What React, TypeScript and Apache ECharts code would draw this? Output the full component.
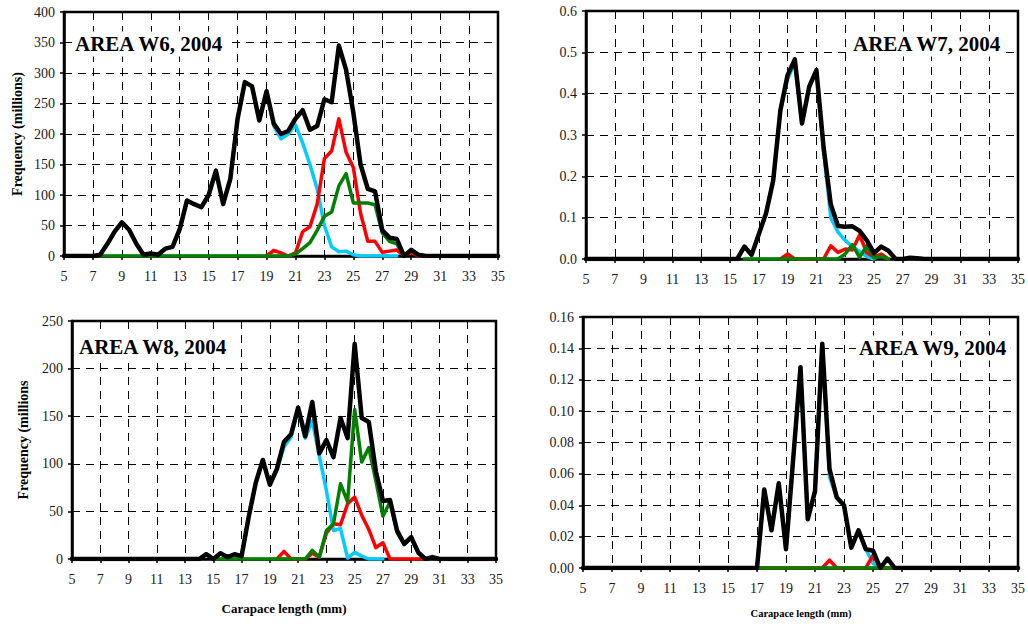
import React, { useEffect, useRef } from "react";
import * as echarts from "echarts";

// Carapace-length classes are sampled every half millimetre.
const STEP = 0.5;
const LENGTH_MIN = 5;
const LENGTH_MAX = 35;
const LENGTH_INTERVAL = 2;

const SERIF = "Liberation Serif, serif";
const COLOR_TOTAL = "#000000";
const COLOR_BLUE = "#00CCFF";
const COLOR_RED = "#FF0000";
const COLOR_GREEN = "#008000";

// ---- AREA W6 (millions) ----
const W6_TOTAL_START = 5;
const W6_TOTAL = [
  0, 0, 0, 0, 0, 2, 20, 40, 55, 43, 20, 2, 4, 2, 12, 15, 44, 91, 85, 80, 100,
  140, 85, 127, 225, 285, 278, 222, 270, 217, 200, 205, 225, 239, 207, 213, 257,
  252, 345, 305, 235, 150, 110, 106, 42, 30, 28, 0, 10, 2, 0, 0, 0, 0, 0, 0, 0,
  0, 0, 0, 0,
];
const W6_BLUE_START = 7.5;
const W6_BLUE = [
  2, 20, 40, 55, 43, 20, 2, 4, 2, 12, 15, 44, 91, 85, 80, 100, 140, 85, 127,
  225, 285, 278, 222, 270, 213, 192, 200, 215, 185, 150, 110, 50, 15, 7, 8, 2,
  0, 0, 0, 0, 0, 0,
];
const W6_RED_START = 19;
const W6_RED = [
  0, 9, 5, 0, 5, 40, 48, 85, 160, 172, 225, 170, 145, 70, 24, 24, 6, 8, 10, 0,
  6, 0, 0,
];
const W6_GREEN_START = 7.5;
const W6_GREEN = [
  0, 0, 0, 0, 0, 0, 0, 0, 0, 0, 0, 0, 0, 0, 0, 0, 0, 0, 0, 0, 0, 0, 0, 0, 0, 0,
  0, 3, 12, 22, 42, 65, 72, 115, 135, 87, 87, 87, 84, 38, 24, 20, 0,
];

// ---- AREA W7 ----
const W7_TOTAL_START = 5;
const W7_TOTAL = [
  0, 0, 0, 0, 0, 0, 0, 0, 0, 0, 0, 0, 0, 0, 0, 0, 0, 0, 0, 0, 0, 0, 0.03, 0.01,
  0.06, 0.11, 0.19, 0.36, 0.445, 0.483, 0.328, 0.417, 0.457, 0.27, 0.132, 0.08,
  0.078, 0.079, 0.068, 0.045, 0.014, 0.03, 0.02, 0, 0, 0.003, 0.002, 0, 0, 0,
  0, 0, 0, 0, 0, 0, 0, 0, 0, 0, 0,
];
const W7_BLUE_START = 15.5;
const W7_BLUE = [
  0, 0.03, 0.01, 0.06, 0.11, 0.19, 0.36, 0.435, 0.475, 0.328, 0.415, 0.455,
  0.26, 0.1, 0.065, 0.045, 0.03, 0.018, 0.006, 0,
];
const W7_RED_START = 18.5;
const W7_RED = [
  0, 0.012, 0, 0, 0, 0, 0, 0.032, 0.016, 0.024, 0.022, 0.058, 0.015, 0.005,
  0.012, 0,
];
const W7_GREEN_START = 16;
const W7_GREEN = [
  0, 0, 0, 0, 0, 0, 0, 0, 0, 0, 0, 0, 0, 0, 0.012, 0.035, 0.004, 0.032, 0.003,
  0.006, 0,
];

// ---- AREA W8 (millions) ----
const W8_TOTAL_START = 5;
const W8_TOTAL = [
  0, 0, 0, 0, 0, 0, 0, 0, 0, 0, 0, 0, 0, 0, 0, 0, 0, 0, 0, 5, 0, 6, 2, 5, 3, 44,
  80, 104, 78, 95, 123, 131, 159, 129, 165, 111, 125, 107, 148, 127, 226, 148,
  144, 92, 61, 62, 30, 16, 23, 7, 0, 2, 0, 0, 0, 0, 0, 0, 0, 0, 0,
];
const W8_BLUE_START = 14.5;
const W8_BLUE = [
  5, 0, 6, 2, 5, 3, 44, 80, 104, 78, 93, 118, 128, 157, 127, 145, 108, 72, 30,
  32, 1, 7, 3, 0, 0, 0,
];
const W8_RED_START = 19.5;
const W8_RED = [
  0, 8, 0, 0, 0, 6, 2, 27, 37, 36, 58, 65, 46, 31, 12, 17, 0, 0, 0, 0, 0, 0,
];
const W8_GREEN_START = 15;
const W8_GREEN = [
  0, 0, 0, 0, 0, 0, 0, 0, 0, 0, 0, 0, 0, 0, 9, 2, 30, 37, 79, 60, 157, 102, 117,
  82, 45, 60, 28, 15, 22, 6, 0,
];

// ---- AREA W9 ----
const W9_TOTAL_START = 5;
const W9_TOTAL = [
  0, 0, 0, 0, 0, 0, 0, 0, 0, 0, 0, 0, 0, 0, 0, 0, 0, 0, 0, 0, 0, 0, 0, 0, 0,
  0.05, 0.024, 0.054, 0.012, 0.07, 0.128, 0.031, 0.049, 0.143, 0.063, 0.045,
  0.04, 0.013, 0.024, 0.012, 0.011, 0, 0.006, 0, 0, 0, 0, 0, 0, 0, 0, 0, 0, 0,
  0, 0, 0, 0, 0, 0, 0,
];
const W9_BLUE_START = 17;
const W9_BLUE = [
  0, 0.05, 0.024, 0.054, 0.012, 0.07, 0.128, 0.031, 0.049, 0.143, 0.058, 0.045,
  0.04, 0.013, 0.024, 0.012, 0.003, 0,
];
const W9_RED_START = 17;
const W9_RED = [
  0, 0, 0, 0, 0, 0, 0, 0, 0, 0, 0.005, 0, 0, 0, 0, 0, 0.008, 0, 0, 0,
];
const W9_GREEN_START = 17;
const W9_GREEN = [
  0, 0, 0, 0, 0, 0, 0, 0, 0, 0, 0, 0, 0, 0, 0, 0, 0, 0, 0, 0,
];

const Y_NAME = "Frequency (millions)";
const Y_NAME_W8 = "Frequency (millions";
const X_NAME = "Carapace length (mm)";

type Panel = {
  title: string;
  grid: { left: number; top: number; width: number; height: number };
  titleAt: [number, number];
  yMax: number;
  yInterval: number;
  decimals: number;
  lines: { start: number; values: number[]; color: string; width: number }[];
};

const THICK = 4.5;
const THIN = 3.5;

const PANELS: Panel[] = [
  {
    title: "AREA W6, 2004",
    grid: { left: 64, top: 12, width: 434, height: 244 },
    titleAt: [72, 44],
    yMax: 400,
    yInterval: 50,
    decimals: 0,
    lines: [
      { start: W6_BLUE_START, values: W6_BLUE, color: COLOR_BLUE, width: THIN },
      { start: W6_RED_START, values: W6_RED, color: COLOR_RED, width: THIN },
      { start: W6_GREEN_START, values: W6_GREEN, color: COLOR_GREEN, width: THIN },
      { start: W6_TOTAL_START, values: W6_TOTAL, color: COLOR_TOTAL, width: THICK },
    ],
  },
  {
    title: "AREA W7, 2004",
    grid: { left: 586, top: 11, width: 433, height: 248 },
    titleAt: [850, 44],
    yMax: 0.6,
    yInterval: 0.1,
    decimals: 1,
    lines: [
      { start: W7_BLUE_START, values: W7_BLUE, color: COLOR_BLUE, width: THIN },
      { start: W7_RED_START, values: W7_RED, color: COLOR_RED, width: THIN },
      { start: W7_GREEN_START, values: W7_GREEN, color: COLOR_GREEN, width: THIN },
      { start: W7_TOTAL_START, values: W7_TOTAL, color: COLOR_TOTAL, width: THICK },
    ],
  },
  {
    title: "AREA W8, 2004",
    grid: { left: 72, top: 321, width: 424, height: 238 },
    titleAt: [76, 347],
    yMax: 250,
    yInterval: 50,
    decimals: 0,
    lines: [
      { start: W8_BLUE_START, values: W8_BLUE, color: COLOR_BLUE, width: THIN },
      { start: W8_RED_START, values: W8_RED, color: COLOR_RED, width: THIN },
      { start: W8_GREEN_START, values: W8_GREEN, color: COLOR_GREEN, width: THIN },
      { start: W8_TOTAL_START, values: W8_TOTAL, color: COLOR_TOTAL, width: THICK },
    ],
  },
  {
    title: "AREA W9, 2004",
    grid: { left: 583, top: 317, width: 436, height: 251 },
    titleAt: [856, 348],
    yMax: 0.16,
    yInterval: 0.02,
    decimals: 2,
    lines: [
      { start: W9_BLUE_START, values: W9_BLUE, color: COLOR_BLUE, width: THIN },
      { start: W9_RED_START, values: W9_RED, color: COLOR_RED, width: THIN },
      { start: W9_GREEN_START, values: W9_GREEN, color: COLOR_GREEN, width: THIN },
      { start: W9_TOTAL_START, values: W9_TOTAL, color: COLOR_TOTAL, width: THICK },
    ],
  },
];

function toPairs(start: number, values: number[]) {
  return values.map((v, i) => [start + i * STEP, v]);
}

const dashed = { type: [8, 6] as number[], color: "#000", width: 1 };
const tickText = { fontFamily: SERIF, fontSize: 14, color: "#1a1a1a" };

function buildOption() {
  const grid = PANELS.map((p) => ({
    ...p.grid,
    show: true,
    borderColor: "#000",
    borderWidth: 2.5,
    containLabel: false,
  }));

  const xAxis = PANELS.map((_, i) => ({
    type: "value",
    gridIndex: i,
    min: LENGTH_MIN,
    max: LENGTH_MAX,
    interval: LENGTH_INTERVAL,
    axisLine: { show: true, onZero: false, lineStyle: { color: "#000", width: 2.5 } },
    axisTick: { show: true, length: 4, lineStyle: { color: "#000", width: 1.5 } },
    axisLabel: { ...tickText, margin: 13 },
    splitLine: { show: true, lineStyle: dashed },
  }));

  const yAxis = PANELS.map((p, i) => ({
    type: "value",
    gridIndex: i,
    min: 0,
    max: p.yMax,
    interval: p.yInterval,
    axisLine: { show: true, lineStyle: { color: "#000", width: 2.5 } },
    axisTick: { show: true, length: 4, lineStyle: { color: "#000", width: 1.5 } },
    axisLabel: {
      ...tickText,
      margin: 9,
      formatter: (v: number) => v.toFixed(p.decimals),
    },
    splitLine: { show: true, lineStyle: dashed },
  }));

  const series: any[] = [];
  PANELS.forEach((p, i) => {
    p.lines.forEach((l) => {
      series.push({
        type: "line",
        xAxisIndex: i,
        yAxisIndex: i,
        data: toPairs(l.start, l.values),
        showSymbol: false,
        symbol: "none",
        lineStyle: { color: l.color, width: l.width, join: "round", cap: "round" },
        emphasis: { disabled: true },
        silent: true,
      });
    });
  });

  // Panel titles sit on a white box that interrupts the grid lines.
  const titles = PANELS.map((p) => ({
    type: "text",
    x: p.titleAt[0],
    y: p.titleAt[1],
    style: {
      text: p.title,
      fontFamily: SERIF,
      fontWeight: "bold",
      fontSize: 21,
      fill: "#000",
      align: "left",
      verticalAlign: "middle",
      backgroundColor: "#ffffff",
      padding: [2, 3, 2, 3],
    },
    z: 10,
  }));

  const nameStyle = (text: string, size: number) => ({
    text,
    fontFamily: SERIF,
    fontWeight: "bold",
    fontSize: size,
    fill: "#000",
    align: "center",
    verticalAlign: "middle",
  });

  const axisNames = [
    { type: "text", x: 17.5, y: 134, rotation: Math.PI / 2, style: nameStyle(Y_NAME, 14) },
    { type: "text", x: 23.5, y: 440, rotation: Math.PI / 2, style: nameStyle(Y_NAME_W8, 14) },
    { type: "text", x: 284, y: 608, style: nameStyle(X_NAME, 13) },
    { type: "text", x: 801, y: 613, style: nameStyle(X_NAME, 10.5) },
  ];

  return {
    animation: false,
    backgroundColor: "#ffffff",
    textStyle: { fontFamily: SERIF },
    grid,
    xAxis,
    yAxis,
    series,
    graphic: [...titles, ...axisNames],
  };
}

export default function App() {
  const ref = useRef<HTMLDivElement>(null);

  useEffect(() => {
    if (!ref.current) return;
    const chart = echarts.init(ref.current, undefined, { renderer: "svg" });
    chart.setOption(buildOption() as any);
    return () => chart.dispose();
  }, []);

  return (
    <div
      ref={ref}
      style={{ position: "absolute", left: 0, top: 0, width: 1028, height: 624 }}
    />
  );
}
